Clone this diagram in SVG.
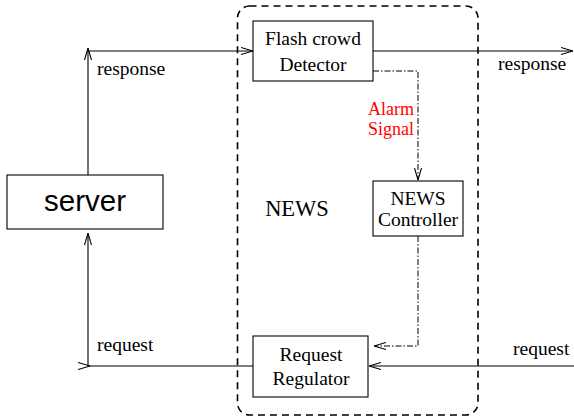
<svg xmlns="http://www.w3.org/2000/svg" width="574" height="416" viewBox="0 0 574 416">
<style>
.box{fill:#fff;stroke:#000;stroke-width:1.1}
.t{font-family:"Liberation Serif","Times New Roman",serif;font-size:19.5px;fill:#000}
.c{text-anchor:middle}
.red{font-family:"Liberation Serif","Times New Roman",serif;font-size:18px;fill:#ff0000;text-anchor:end}
.line{fill:none;stroke:#000;stroke-width:1.1}
.dd{fill:none;stroke:#000;stroke-width:1;stroke-dasharray:6,2,1.5,2}
</style>
<defs>
<marker id="ah" viewBox="0 0 12 8" refX="12" refY="4" markerWidth="12" markerHeight="8" markerUnits="userSpaceOnUse" orient="auto">
<path d="M0,0.5 L12,4 L0,7.5" fill="none" stroke="#000" stroke-width="1.1"/>
</marker>
</defs>
<rect x="237.5" y="6" width="240.5" height="409" rx="12" fill="none" stroke="#000" stroke-width="1.6" stroke-dasharray="7,5"/>
<g id="connectors">
<path class="line" d="M88,175 V48" marker-end="url(#ah)"/>
<path class="line" d="M88,51 H253" marker-end="url(#ah)"/>
<path class="line" d="M373,51 H573" marker-end="url(#ah)"/>
<path class="dd" d="M373,71 H418 V180" marker-end="url(#ah)"/>
<path class="dd" d="M418,236 V346 H374" marker-end="url(#ah)"/>
<path class="line" d="M574,366 H369" marker-end="url(#ah)"/>
<path class="line" d="M253,366 H88 V233" marker-end="url(#ah)"/>
<path class="line" d="M88,366 H90" marker-end="url(#ah)"/>
</g>
<g id="server">
<rect class="box" x="7" y="175" width="156" height="54"/>
<text x="85" y="211" text-anchor="middle" font-family="Liberation Sans,Arial,sans-serif" font-size="29.5px">server</text>
</g>
<g id="detector">
<rect class="box" x="253" y="21" width="120" height="60"/>
<text class="t c" x="313" y="45">Flash crowd</text>
<text class="t c" x="313" y="71">Detector</text>
</g>
<g id="controller">
<rect class="box" x="373" y="181" width="90" height="55"/>
<text class="t c" x="418" y="205">NEWS</text>
<text class="t c" x="418" y="226">Controller</text>
</g>
<g id="regulator">
<rect class="box" x="253" y="336" width="115" height="61"/>
<text class="t c" x="311" y="361">Request</text>
<text class="t c" x="311" y="385">Regulator</text>
</g>
<g id="labels">
<text class="t c" x="297" y="216" style="font-size:22.5px">NEWS</text>
<text class="red" x="414" y="115">Alarm</text>
<text class="red" x="414" y="135">Signal</text>
<text class="t" x="97" y="75">response</text>
<text class="t" x="498" y="70">response</text>
<text class="t" x="97" y="351">request</text>
<text class="t" x="513" y="355">request</text>
</g>
</svg>
